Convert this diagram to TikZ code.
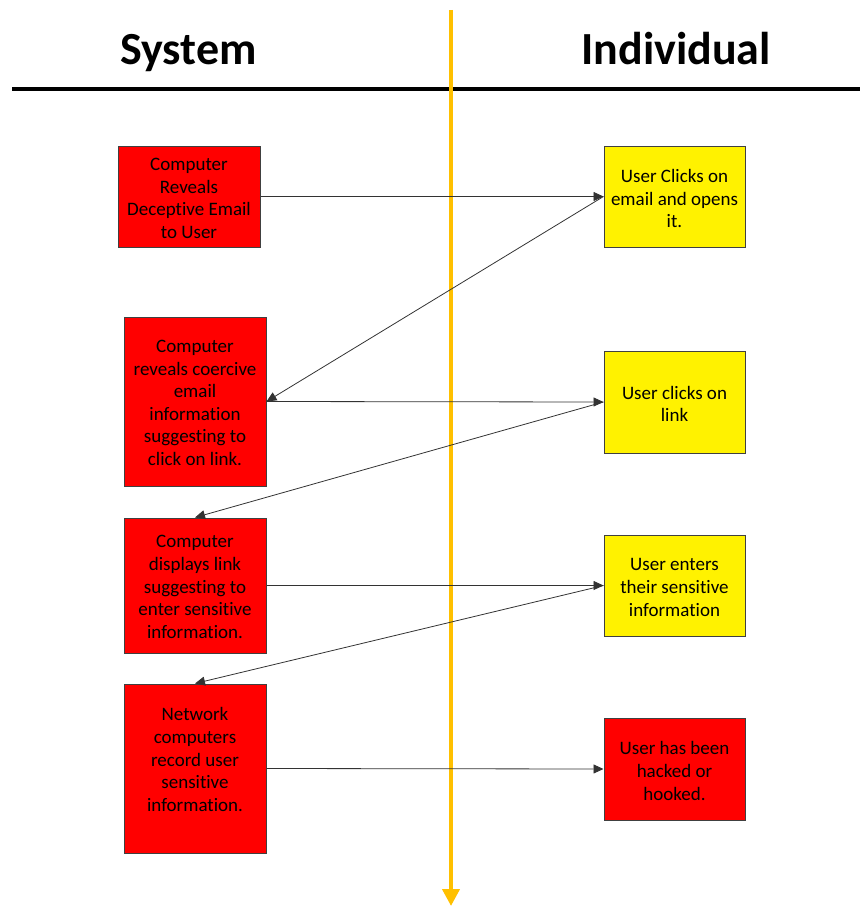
\documentclass[tikz,border=0pt]{standalone}
\usepackage{fontspec}
\setmainfont[Ligatures=NoCommon]{Carlito}
\usetikzlibrary{arrows.meta}
\definecolor{laneorange}{HTML}{FFC000}
\definecolor{boxedge}{HTML}{404040}
\begin{document}
\begin{tikzpicture}[x=1pt,y=-1pt,
  box/.style={draw=boxedge, line width=1pt, inner sep=0pt, align=center,
    font=\fontsize{19}{22.6}\selectfont, text=black},
  redbox/.style={box, fill=red},
  yellowbox/.style={box, fill=yellow},
  boxtext/.style={inner sep=0pt, align=center, font=\fontsize{19}{22.6}\selectfont, text=black},
  heading/.style={font=\fontsize{46}{50}\selectfont\bfseries, anchor=base, inner sep=0pt},
  flow/.style={draw=black!80, line width=0.8pt, -{Triangle[width=9pt,length=10pt]}}
]
\useasboundingbox (0,0) rectangle (860,907);

% column headings and divider
\node[heading] (sys) at (188.5,65) {System};
\node[heading] (ind) at (676,65) {Individual};
\coordinate (ruleL) at (12,89);
\coordinate (ruleR) at (860,89);
\draw[line width=4pt] (ruleL) -- (ruleR);

% time axis
\coordinate (axisTop) at (451,10);
\coordinate (axisEnd) at (451,906);
\draw[laneorange, line width=4pt, -{Triangle[width=17pt,length=17pt]}] (axisTop) -- (axisEnd);

% system side
\node[redbox, minimum width=142pt, minimum height=101pt] (b1) at (189,196.5) {};
\node[boxtext] (b1text) at (189,198.5) {Computer\\Reveals\\Deceptive Email\\to User};
\node[redbox, minimum width=142pt, minimum height=169pt] (b3) at (195,401.5) {};
\node[boxtext] (b3text) at (195,403)
  {Computer\\reveals coercive\\email\\information\\suggesting to\\click on link.};
\node[redbox, minimum width=142pt, minimum height=135pt] (b5) at (195,585.5) {};
\node[boxtext] (b5text) at (195,587)
  {Computer\\displays link\\suggesting to\\enter sensitive\\information.};
\node[redbox, minimum width=142pt, minimum height=169pt] (b7) at (195,768.5) {};
\node[boxtext] (b7text) at (195,759.5)
  {Network\\computers\\record user\\sensitive\\information.};

% individual side
\node[yellowbox, minimum width=141pt, minimum height=101pt] (b2) at (674.5,196.5) {};
\node[boxtext] (b2text) at (674.5,198.5) {User Clicks on\\email and opens\\it.};
\node[yellowbox, minimum width=141pt, minimum height=102pt] (b4) at (674.5,402) {};
\node[boxtext] (b4text) at (674.5,404) {User clicks on\\link};
\node[yellowbox, minimum width=141pt, minimum height=101pt] (b6) at (674.5,585.5) {};
\node[boxtext] (b6text) at (674.5,587.5) {User enters\\their sensitive\\information};
\node[redbox, minimum width=141pt, minimum height=102pt] (b8) at (674.5,769) {};
\node[boxtext] (b8text) at (674.5,771) {User has been\\hacked or\\hooked.};

% interaction flow
\draw[flow] (b1.east) -- (b2.west);
\draw[flow] (b2.west) -- (b3.east);
\draw[flow] (b3.east) -- (b4.west);
\draw[flow] (b4.west) -- (b5.north);
\draw[flow] (b5.east) -- (b6.west);
\draw[flow] (b6.west) -- (b7.north);
\draw[flow] (b7.east) -- (b8.west);
\end{tikzpicture}
\end{document}
